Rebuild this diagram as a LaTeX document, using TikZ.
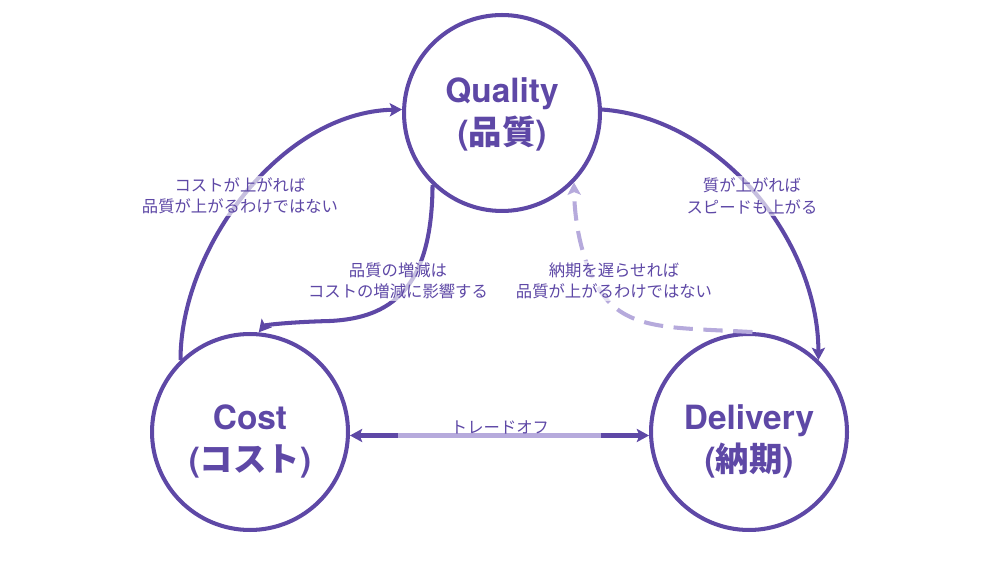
\documentclass[tikz,border=0pt]{standalone}
\usepackage{fontspec}
\usetikzlibrary{arrows.meta}
\newfontfamily\headfont{TeX Gyre Heros}
\newfontfamily\jpfont{Noto Sans CJK JP}
\definecolor{qcdpurple}{RGB}{94,72,166}
\definecolor{qcdlight}{RGB}{182,170,220}
\tikzset{
  qcd/.style={circle, draw=qcdpurple, line width=2.3pt, minimum size=3.92cm,
    inner sep=0pt},
  title/.style={align=center, text=qcdpurple, inner sep=0pt,
    font=\headfont\bfseries\fontsize{19}{24}\selectfont},
  link/.style={draw=qcdpurple, line width=2.3pt,
    -{Stealth[length=7pt,width=7.5pt,inset=1.5pt]}},
  weaklink/.style={draw=qcdlight, line width=2.3pt, dash pattern=on 11pt off 6pt,
    -{Stealth[length=7pt,width=7.5pt,inset=1.5pt]}},
  note/.style={align=center, text=qcdpurple, inner sep=1pt,
    fill=white, fill opacity=0.65, text opacity=1,
    font=\jpfont\fontsize{9.3}{12}\selectfont},
}

\begin{document}
\begin{tikzpicture}[x=0.02cm, y=-0.02cm]
\useasboundingbox (0,0) rectangle (1000,563);
% the three goals
\node[qcd, label={[title, yshift=-1pt]center:Quality\\({\jpfont 品質})}] (quality) at (502,113) {};
\node[qcd, label={[title, yshift=-5.5pt]center:Cost\\({\jpfont コスト})}] (cost) at (250,432) {};
\node[qcd, label={[title, yshift=-5.5pt]center:Delivery\\({\jpfont 納期})}] (delivery) at (749,432) {};
% connectors
\draw[link] (cost.134) .. controls (180,250) and (280,112) .. (quality.178);
\draw[link] (quality.2) .. controls (720,118) and (818,240) .. (delivery.46);
\draw[link] (quality.226) .. controls (432,290) and (390,318) .. (330,321)
  .. controls (290,322) and (265,325) .. (cost.85);
\draw[weaklink] (delivery.88) .. controls (680,328) and (640,330) .. (612,305)
  .. controls (590,285) and (575,240) .. (quality.316);
\draw[link, {Stealth[length=7pt,width=7.5pt,inset=1.5pt]}-{Stealth[length=7pt,width=7.5pt,inset=1.5pt]}]
  (cost.-2) -- coordinate[pos=0.16] (tradeL) coordinate[pos=0.84] (tradeR) (delivery.182);
\draw[qcdlight, line width=2.3pt] (tradeL) -- (tradeR);
% labels
\node[note] (costnote) at (240,196) {コストが上がれば\\品質が上がるわけではない};
\node[note] (speednote) at (752,196) {質が上がれば\\スピードも上がる};
\node[note] (linknote) at (398,281) {品質の増減は\\コストの増減に影響する};
\node[note] (delaynote) at (614,281) {納期を遅らせれば\\品質が上がるわけではない};
\node[note, fill=none] (tradenote) at (500,427) {トレードオフ};
\end{tikzpicture}
\end{document}
